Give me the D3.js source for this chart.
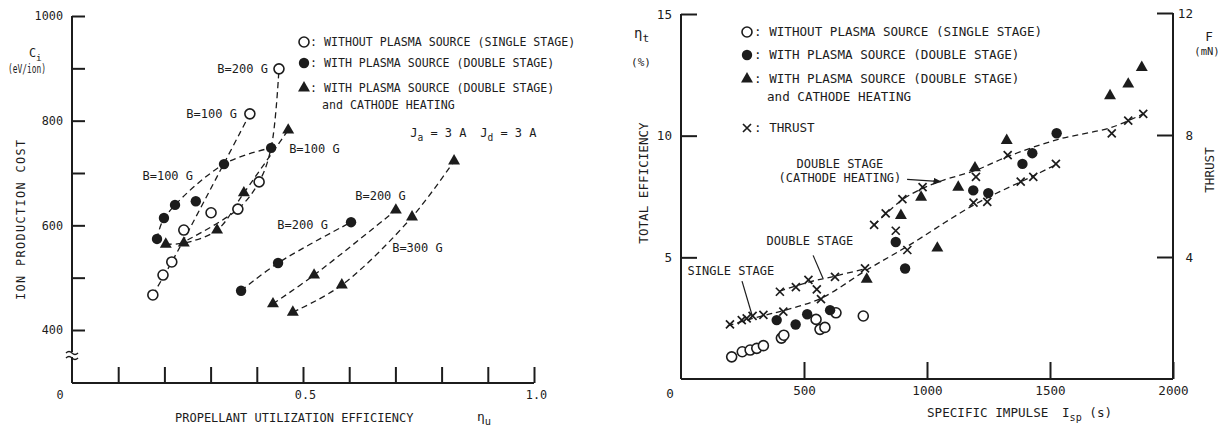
<!DOCTYPE html>
<meta charset="utf-8">
<title>Ion production cost and total efficiency</title>
<style>
body { margin: 0; background: #fff; }
text { font-family: "DejaVu Sans Mono", "Liberation Mono", monospace; fill: #1c1c1c; }
</style>
<body>
<script src="https://d3js.org/d3.v7.min.js"></script>
<script>
// ---- left chart: ion production cost Ci (eV/ion) vs propellant utilization eta_u
var openL   = [[0.175,467],[0.197,505],[0.216,530],[0.242,591],[0.301,624],[0.359,631],[0.405,683],[0.385,813],[0.448,899]];
var filledL = [[0.184,574],[0.199,614],[0.223,639],[0.268,646],[0.329,717],[0.431,748],[0.366,475],[0.446,528],[0.604,606]];
var triL    = [[0.203,564],[0.242,566],[0.314,591],[0.372,662],[0.468,782],[0.435,450],[0.524,505],[0.701,629],
               [0.478,434],[0.584,486],[0.736,616],[0.827,723]];
// dashed fits through the groups
var fitsL = [
  [[0.175,467],[0.216,530],[0.33,720],[0.385,813]],
  [[0.25,572],[0.359,631],[0.405,683],[0.431,748],[0.448,899]],
  [[0.184,574],[0.2,614],[0.329,717],[0.431,748]],
  [[0.203,564],[0.242,566],[0.314,591],[0.372,662],[0.468,782]],
  [[0.366,475],[0.446,528],[0.604,606]],
  [[0.435,450],[0.524,505],[0.701,629]],
  [[0.478,434],[0.584,486],[0.736,616],[0.827,723]]
];
var labelsL = [
  ['B=200 G', 0.424, 891, 'end'],
  ['B=100 G', 0.357, 805, 'end'],
  ['B=100 G', 0.262, 687, 'end'],
  ['B=100 G', 0.470, 738, 'start'],
  ['B=200 G', 0.613, 648, 'start'],
  ['B=200 G', 0.554, 593, 'end'],
  ['B=300 G', 0.693, 549, 'start']
];
var cTicks  = [400,500,600,700,800,900,1000];
var cLabels = [400,600,800,1000];
var uTicks  = [0.1,0.2,0.3,0.4,0.5,0.6,0.7,0.8,0.9,1.0];
var uLabels = [0.5,1.0];

// ---- right chart: total efficiency eta_t (%) and thrust F (mN) vs Isp (s)
var openR   = [[206,0.91],[249,1.12],[281,1.19],[308,1.26],[335,1.37],[408,1.68],[418,1.80],[549,2.45],[565,2.04],[585,2.12],[630,2.72],[741,2.59]];
var filledR = [[389,2.42],[466,2.24],[513,2.66],[606,2.83],[873,5.63],[911,4.54],[1188,7.75],[1249,7.64],[1388,8.84],[1428,9.28],[1527,10.1]];
var triR    = [[755,4.10],[894,6.72],[976,7.47],[1042,5.38],[1127,7.88],[1195,8.68],[1324,9.80],[1744,11.64],[1818,12.12],[1873,12.80]];
var thrustR = [[199,1.79],[247,1.93],[267,1.99],[291,2.07],[335,2.10],[416,2.21],[569,2.62],
               [402,2.86],[467,3.01],[518,3.25],[552,2.94],[626,3.35],[748,3.63],
               [785,5.05],[832,5.43],[873,4.86],[900,5.90],[920,4.23],[982,6.29],
               [1189,5.78],[1199,6.63],[1245,5.81],[1328,7.34],[1381,6.47],[1432,6.63],[1524,7.05],
               [1751,8.05],[1818,8.47],[1879,8.69]];
var fitsR = [
  [[190,1.75],[335,2.08],[420,2.25],[570,2.65],[750,3.55],[920,4.35],[1200,5.75],[1430,6.65],[1530,7.05]],
  [[400,2.88],[520,3.18],[630,3.38],[750,3.62]],
  [[785,5.05],[900,5.88],[982,6.25],[1060,6.5],[1200,6.85],[1330,7.3],[1530,7.85],[1750,8.25],[1880,8.7]]
];
var annR = [
  ['DOUBLE STAGE', 646, 8.69],
  ['(CATHODE HEATING)', 646, 8.11],
  ['DOUBLE STAGE', 524, 5.49],
  ['SINGLE STAGE', 203, 4.26]
];
var leadersR = [[[919,8.20],[1057,8.11]], [[537,5.08],[577,4.14]], [[248,4.02],[289,2.62]]];
var ispTicks = [500,1000,1500,2000];
var etaTicks = [5,10,15];
var fTicks   = [4,8,12];

var legendText = ['WITHOUT PLASMA SOURCE (SINGLE STAGE)', 'WITH PLASMA SOURCE (DOUBLE STAGE)', 'WITH PLASMA SOURCE (DOUBLE STAGE)'];

var ink = '#1c1c1c';
var fL = 11.8, fR = 12.6;

var svg = d3.select('body').append('svg')
  .attr('width', 1222).attr('height', 433)
  .style('display', 'block').style('background', '#fff');

var xL = d3.scaleLinear().domain([0,1]).range([72,534]);
var yL = d3.scaleLinear().domain([400,1000]).range([330,16]);
var floorL = 383;
var xR = d3.scaleLinear().domain([0,2000]).range([681,1173]);
var yR = d3.scaleLinear().domain([0,15]).range([379,14]);
var yF = d3.scaleLinear().domain([0,12]).range([379,13]);

function txt(g, x, y, s, size, anchor){
  return g.append('text').attr('x', x).attr('y', y).attr('font-size', size)
    .attr('text-anchor', anchor || 'start').text(s);
}
function subTxt(g, x, y, base, sub, rest, size){
  var t = g.append('text').attr('x', x).attr('y', y).attr('font-size', size);
  t.append('tspan').text(base);
  t.append('tspan').attr('dy', 4).attr('font-size', size*0.8).text(sub);
  if (rest) t.append('tspan').attr('dy', -4).text(rest);
  return t;
}
function styleAxis(g, size){
  g.select('.domain').remove();
  g.selectAll('line').attr('stroke', ink).attr('stroke-width', 2);
  g.selectAll('text').attr('font-family', null).attr('font-size', size).style('fill', ink);
}
function marker(g, kind, x, y){
  if (kind == 'open') g.append('circle').attr('cx', x).attr('cy', y).attr('r', 5)
      .attr('fill', '#fff').attr('stroke', ink).attr('stroke-width', 1.6);
  else if (kind == 'filled') g.append('circle').attr('cx', x).attr('cy', y).attr('r', 5.2).attr('fill', ink);
  else if (kind == 'tri') g.append('path').attr('d', d3.symbol(d3.symbolTriangle, 62)())
      .attr('transform', 'translate(' + x + ',' + y + ')').attr('fill', ink);
  else g.append('path').attr('d', 'M-4,-4L4,4M-4,4L4,-4')
      .attr('transform', 'translate(' + x + ',' + y + ')').attr('stroke', ink).attr('stroke-width', 1.7);
}

//left chart=================================================================================
var gL = svg.append('g');
gL.append('line').attr('x1', xL(0)).attr('x2', xL(0)).attr('y1', yL(1000)).attr('y2', floorL)
  .attr('stroke', ink).attr('stroke-width', 2);
gL.append('line').attr('x1', xL(0)).attr('x2', xL(1)).attr('y1', floorL).attr('y2', floorL)
  .attr('stroke', ink).attr('stroke-width', 2);
// axis break
gL.append('rect').attr('x', xL(0) - 6).attr('y', 352).attr('width', 12).attr('height', 5).attr('fill', '#fff');
gL.append('path').attr('d', 'M66,353q3,-3 6,0t6,0M66,358q3,-3 6,0t6,0')
  .attr('fill', 'none').attr('stroke', ink).attr('stroke-width', 1.4);

gL.append('g').attr('transform', 'translate(' + xL(0) + ',0)')
  .call(d3.axisLeft(yL).tickValues(cTicks).tickSize(-13).tickPadding(9)
    .tickFormat(function(d){ return cLabels.indexOf(d) >= 0 ? d : ''; }))
  .call(function(g){ styleAxis(g, fL); });
gL.append('g').attr('transform', 'translate(0,' + floorL + ')')
  .call(d3.axisBottom(xL).tickValues(uTicks).tickSize(-16).tickPadding(8)
    .tickFormat(function(d){ return uLabels.indexOf(d) >= 0 ? d3.format('.1f')(d) : ''; }))
  .call(function(g){ styleAxis(g, fL); g.selectAll('text').attr('dx', 2); });
txt(gL, 60, 399, '0', fL, 'middle');

subTxt(gL, 29, 57, 'C', 'i', '', fL);
txt(gL, 27, 73, '(eV/ion)', fL, 'middle').attr('textLength', 38).attr('lengthAdjust', 'spacingAndGlyphs');
txt(gL, 0, 0, 'ION PRODUCTION COST', fL, 'middle')
  .attr('transform', 'translate(25,220) rotate(-90)').attr('textLength', 160).attr('lengthAdjust', 'spacing');
txt(gL, 175, 422, 'PROPELLANT UTILIZATION EFFICIENCY', 12, 'start');
subTxt(gL, 477, 421, '\u03b7', 'u', '', 13);

var lineL = d3.line().x(function(d){ return xL(d[0]); }).y(function(d){ return yL(d[1]); })
  .curve(d3.curveCatmullRom.alpha(0.5));
for (var i = 0; i < fitsL.length; i++){
  gL.append('path').attr('d', lineL(fitsL[i])).attr('fill', 'none')
    .attr('stroke', ink).attr('stroke-width', 1.3).attr('stroke-dasharray', '6,4');
}
openL.forEach(function(d){ marker(gL, 'open', xL(d[0]), yL(d[1])); });
filledL.forEach(function(d){ marker(gL, 'filled', xL(d[0]), yL(d[1])); });
triL.forEach(function(d){ marker(gL, 'tri', xL(d[0]), yL(d[1])); });

labelsL.forEach(function(d){ txt(gL, xL(d[1]), yL(d[2]), d[0], 12, d[3]); });
subTxt(gL, xL(0.732), yL(769), 'J', 'a', ' = 3 A', 12);
subTxt(gL, xL(0.732) + 70, yL(769), 'J', 'd', ' = 3 A', 12);

// legend
var kinds = ['open', 'filled', 'tri'];
var legYL = [42, 63, 88];
for (var i = 0; i < 3; i++){
  marker(gL, kinds[i], 304, legYL[i]);
  txt(gL, 310, legYL[i] + 4, ': ' + legendText[i], 11.6);
}
txt(gL, 322, 109, 'and CATHODE HEATING', 11.6);

//right chart================================================================================
var gR = svg.append('g');
gR.append('line').attr('x1', xR(0)).attr('x2', xR(0)).attr('y1', yR(15)).attr('y2', yR(0))
  .attr('stroke', ink).attr('stroke-width', 2);
gR.append('line').attr('x1', xR(0)).attr('x2', xR(2000)).attr('y1', yR(0)).attr('y2', yR(0))
  .attr('stroke', ink).attr('stroke-width', 2);
gR.append('line').attr('x1', xR(2000)).attr('x2', xR(2000)).attr('y1', yF(12)).attr('y2', yF(0))
  .attr('stroke', ink).attr('stroke-width', 2);

gR.append('g').attr('transform', 'translate(' + xR(0) + ',0)')
  .call(d3.axisLeft(yR).tickValues(etaTicks).tickSize(-16).tickPadding(9))
  .call(function(g){ styleAxis(g, fR); });
gR.append('g').attr('transform', 'translate(0,' + yR(0) + ')')
  .call(d3.axisBottom(xR).tickValues(ispTicks).tickSize(-17).tickPadding(7).tickFormat(d3.format('d')))
  .call(function(g){ styleAxis(g, fR); });
gR.append('g').attr('transform', 'translate(' + xR(2000) + ',0)')
  .call(d3.axisRight(yF).tickValues(fTicks).tickSize(-16).tickPadding(20))
  .call(function(g){ styleAxis(g, fR); g.selectAll('text').attr('text-anchor', 'end'); });
txt(gR, 670, 398, '0', fR, 'middle');

subTxt(gR, 634, 38, '\u03b7', 't', '', 14);
txt(gR, 641, 66, '(%)', 11, 'middle');
txt(gR, 0, 0, 'TOTAL EFFICIENCY', fR, 'middle').attr('transform', 'translate(648,183) rotate(-90)');
txt(gR, 1209, 41, 'F', fR, 'middle');
txt(gR, 1207, 55, '(mN)', 10.5, 'middle');
txt(gR, 0, 0, 'THRUST', fR, 'middle').attr('transform', 'translate(1214,170) rotate(-90)');
txt(gR, 927, 417, 'SPECIFIC IMPULSE', fR);
subTxt(gR, 1062, 417, 'I', 'sp', ' (s)', fR);

var lineR = d3.line().x(function(d){ return xR(d[0]); }).y(function(d){ return yF(d[1]); })
  .curve(d3.curveCatmullRom.alpha(0.5));
for (var i = 0; i < fitsR.length; i++){
  gR.append('path').attr('d', lineR(fitsR[i])).attr('fill', 'none')
    .attr('stroke', ink).attr('stroke-width', 1.3).attr('stroke-dasharray', '6,4');
}
openR.forEach(function(d){ marker(gR, 'open', xR(d[0]), yR(d[1])); });
filledR.forEach(function(d){ marker(gR, 'filled', xR(d[0]), yR(d[1])); });
triR.forEach(function(d){ marker(gR, 'tri', xR(d[0]), yR(d[1])); });
thrustR.forEach(function(d){ marker(gR, 'cross', xR(d[0]), yF(d[1])); });

annR.forEach(function(d){ txt(gR, xR(d[1]), yR(d[2]), d[0], 12, 'middle'); });
var defs = svg.append('defs');
defs.append('marker').attr('id', 'arr').attr('viewBox', '0 0 10 10').attr('refX', 9).attr('refY', 5)
  .attr('markerWidth', 7).attr('markerHeight', 7).attr('orient', 'auto')
  .append('path').attr('d', 'M0,1L10,5L0,9z').attr('fill', ink);
leadersR.forEach(function(d, i){
  var l = gR.append('line').attr('x1', xR(d[0][0])).attr('y1', yR(d[0][1]))
    .attr('x2', xR(d[1][0])).attr('y2', yR(d[1][1])).attr('stroke', ink).attr('stroke-width', 1.2);
  if (i == 0) l.attr('marker-end', 'url(#arr)');
});

var legYR = [32, 55, 79, 128];
for (var i = 0; i < 3; i++){
  marker(gR, kinds[i], 747, legYR[i]);
  txt(gR, 754, legYR[i] + 4, ': ' + legendText[i], fR);
}
txt(gR, 767, 101, 'and CATHODE HEATING', fR);
marker(gR, 'cross', 747, legYR[3]);
txt(gR, 754, legYR[3] + 4, ': THRUST', fR);
</script>
